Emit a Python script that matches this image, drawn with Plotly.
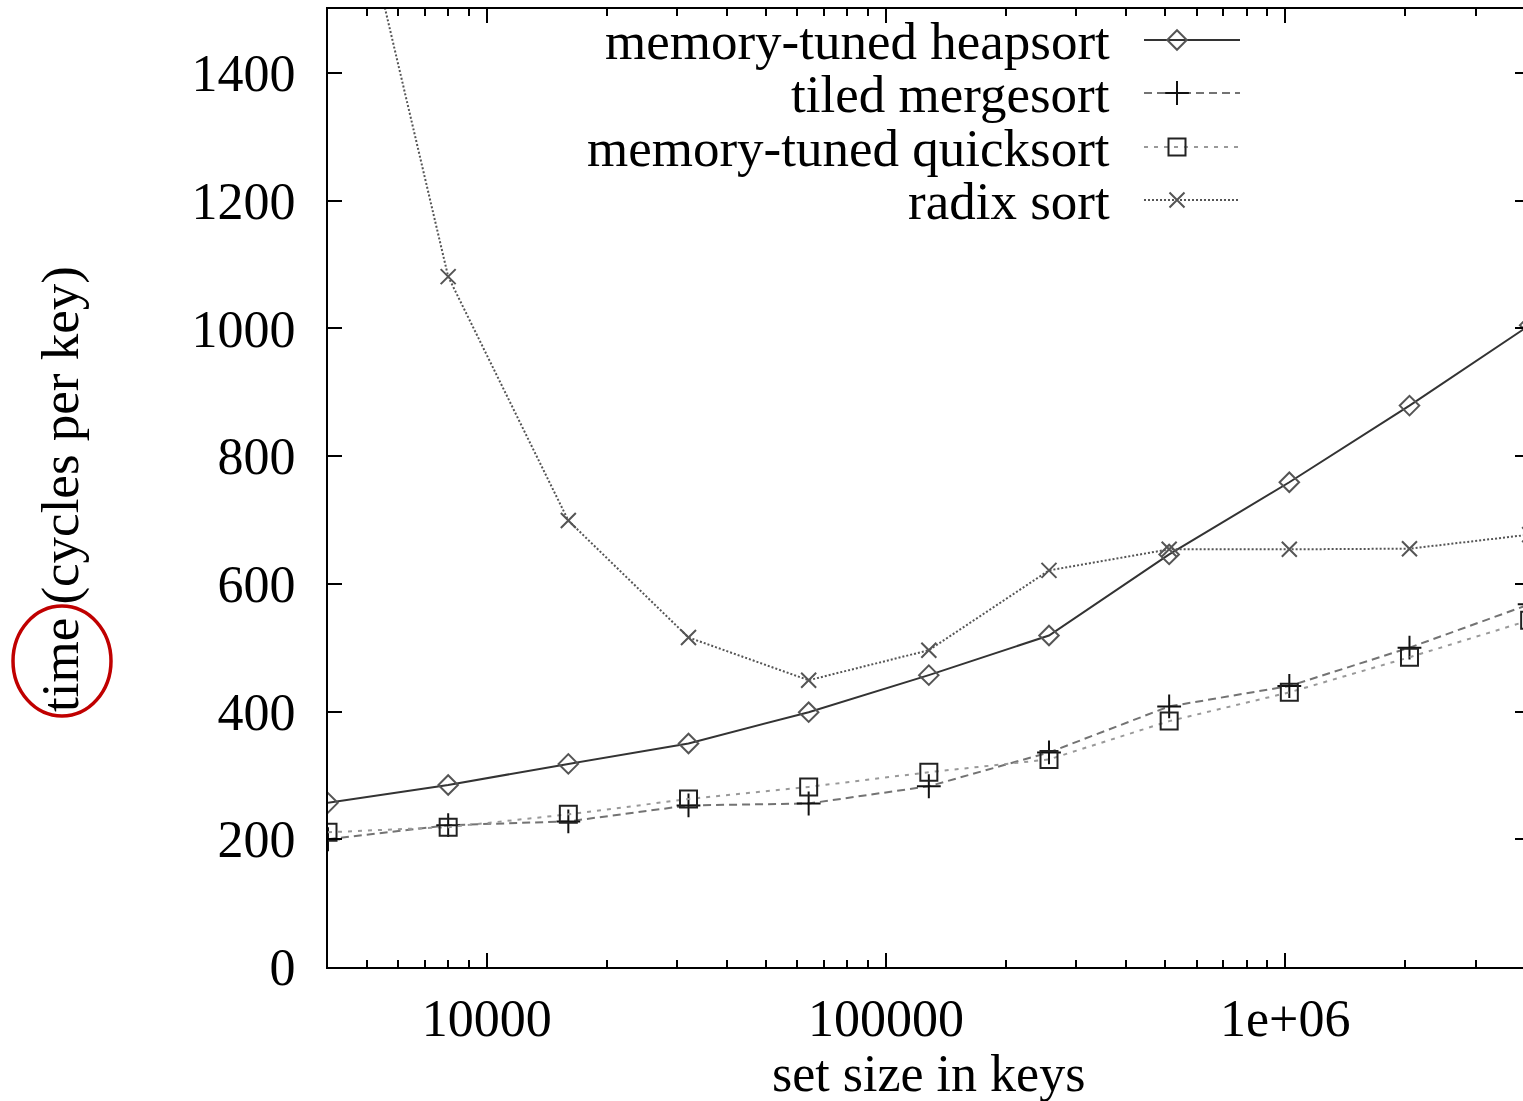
import math
import plotly.graph_objects as go

# ---------------- data ----------------
set_size = [4000, 8000, 16000, 32000, 64000, 128000, 256000, 512000, 1024000, 2048000, 4096000]
heapsort = [257, 285, 318, 350, 399, 457, 519, 646, 759, 879, 1005]
mergesort = [200, 222, 228, 253, 256, 283, 336, 408, 440, 500, 568]
quicksort = [211, 219, 239, 263, 282, 305, 325, 385, 430, 485, 543]
radixsort = [1880, 1081, 699, 516, 449, 496, 621, 654, 654, 655, 677]

series_names = ["memory-tuned heapsort", "tiled mergesort", "memory-tuned quicksort", "radix sort"]
x_tickvals = [10000, 100000, 1000000]
x_ticktext = ["10000", "100000", "1e+06"]
y_tickvals = [0, 200, 400, 600, 800, 1000, 1200, 1400]

# ---------------- layout geometry (page pixels) ----------------
W, H = 1523, 1101
L, R, T, B = 328, 1523, 9, 967
FONT = "Liberation Serif, Times New Roman, serif"
FS = 52
FS_LEG = 53


def px(xp):
    return (xp - L) / (R - L)


def py(yp):
    return (B - yp) / (B - T)


styles = [
    dict(line=dict(color="#333333", width=2, dash="solid"),
         marker=dict(symbol="diamond-open", size=15, color="#555555", line=dict(width=2))),
    dict(line=dict(color="#737373", width=2, dash="8px,5px"),
         marker=dict(symbol="cross-thin-open", size=17, color="#111111", line=dict(width=2))),
    dict(line=dict(color="#999999", width=2, dash="4px,6px"),
         marker=dict(symbol="square-open", size=17, color="#222222", line=dict(width=2))),
    dict(line=dict(color="#555555", width=2, dash="2px,2px"),
         marker=dict(symbol="x-thin-open", size=15, color="#555555", line=dict(width=2))),
]
values = [heapsort, mergesort, quicksort, radixsort]

fig = go.Figure()
for name, vals, st in zip(series_names, values, styles):
    fig.add_trace(go.Scatter(x=set_size, y=vals, mode="lines+markers", name=name,
                             line=st["line"], marker=st["marker"], showlegend=False))

# dummy trace to activate right-hand tick axis
fig.add_trace(go.Scatter(x=[set_size[0]], y=[0], yaxis="y2", mode="markers",
                         marker=dict(opacity=0), showlegend=False, hoverinfo="skip"))

# legend drawn inside the plot (symbol to the right of the text)
leg_rows = [40, 93, 147, 200]
for name, st, ry in zip(series_names, styles, leg_rows):
    fig.add_trace(go.Scatter(x=[1144, 1240], y=[ry, ry], xaxis="x3", yaxis="y3", mode="lines",
                             line=st["line"], showlegend=False, hoverinfo="skip"))
    fig.add_trace(go.Scatter(x=[1177], y=[ry], xaxis="x3", yaxis="y3", mode="markers",
                             marker=st["marker"], showlegend=False, hoverinfo="skip"))
    fig.add_annotation(x=px(1112), y=py(ry + 1), xref="paper", yref="paper", text=name,
                       showarrow=False, xanchor="right", yanchor="middle",
                       font=dict(family=FONT, size=FS_LEG, color="black"))

minor_vals = [m * 10 ** e for e in range(3, 7) for m in range(2, 10)]

fig.update_layout(
    width=W, height=H,
    margin=dict(l=L, r=W - R, t=T, b=H - B),
    plot_bgcolor="white", paper_bgcolor="white",
    font=dict(family=FONT, size=FS, color="black"),
    showlegend=False,
    xaxis=dict(type="log", range=[math.log10(4000), 6.5957],
               tickmode="array", tickvals=x_tickvals, ticktext=x_ticktext,
               ticks="inside", ticklen=14, tickwidth=2, tickcolor="black",
               showline=True, linewidth=2, linecolor="black", mirror="ticks",
               showgrid=False, zeroline=False, ticklabelstandoff=5,
               minor=dict(tickmode="array", tickvals=minor_vals, ticks="inside", ticklen=7,
                          tickwidth=2, tickcolor="black", showgrid=False),
               tickfont=dict(family=FONT, size=FS)),
    yaxis=dict(range=[0, 1500], tickmode="array", tickvals=y_tickvals,
               ticks="inside", ticklen=14, tickwidth=2, tickcolor="black",
               showline=True, linewidth=2, linecolor="black", mirror=False,
               showgrid=False, zeroline=False, ticklabelstandoff=20,
               tickfont=dict(family=FONT, size=FS)),
    yaxis2=dict(range=[0, 1500], overlaying="y", side="right", tickmode="array",
                tickvals=y_tickvals, ticks="inside", ticklen=8, tickwidth=2, tickcolor="black",
                showticklabels=False, showline=False, showgrid=False, zeroline=False),
    xaxis3=dict(range=[L, R], overlaying="x", visible=False, fixedrange=True),
    yaxis3=dict(range=[B, T], overlaying="y", visible=False, fixedrange=True),
)

# axis titles
fig.add_annotation(x=px(928), y=py(1073), xref="paper", yref="paper", text="set size in keys",
                   showarrow=False, xanchor="center", yanchor="middle",
                   font=dict(family=FONT, size=FS, color="black"))
fig.add_annotation(x=px(60), y=py(489), xref="paper", yref="paper", text="time (cycles per key)",
                   showarrow=False, xanchor="center", yanchor="middle", textangle=-90,
                   font=dict(family=FONT, size=FS_LEG, color="black"))

# red circle highlight around "time"
fig.add_shape(type="circle", xref="paper", yref="paper",
              x0=px(13), x1=px(111), y0=py(716), y1=py(606),
              line=dict(color="#c00000", width=3.5))

fig.write_html(
    "out.html",
    config={"displayModeBar": False},
    post_script="document.body.style.margin='0';document.documentElement.style.overflow='hidden';document.body.style.overflow='hidden';",
)
